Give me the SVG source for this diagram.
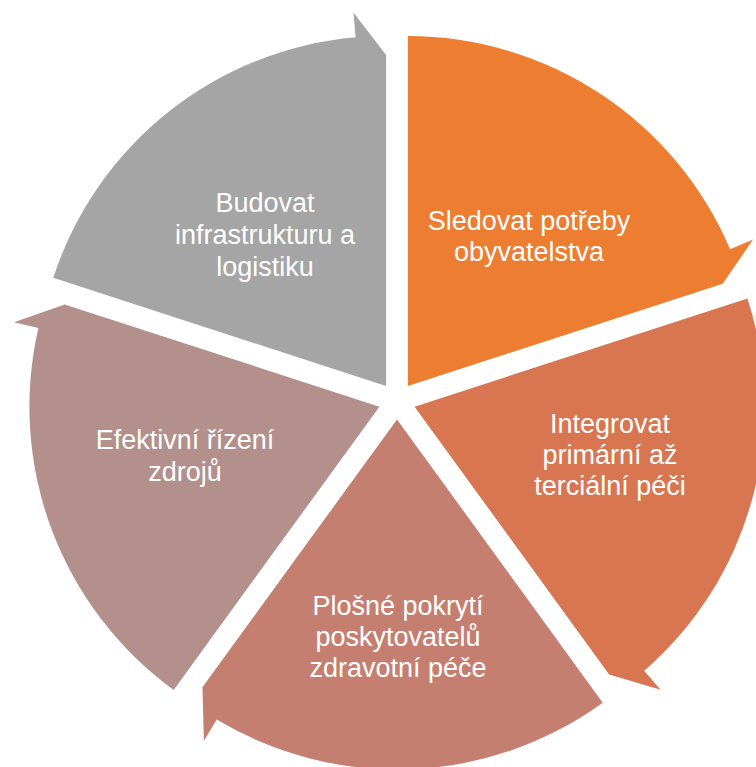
<svg xmlns="http://www.w3.org/2000/svg" width="756" height="767" viewBox="0 0 756 767">
  <style>
    .lbl { font-family: "Liberation Sans", Arial, sans-serif; font-size: 27px; fill: #FFFFFF; text-anchor: middle; }
  </style>
  <rect x="0" y="0" width="756" height="767" fill="#FFFFFF"/>
  <g id="node-sledovat">
    <path d="M407.87,386.03 L407.87,36.03 A350,350 0 0 1 730.05,249.27 L753.06,239.51 L722.67,283.75 Z" fill="#ED7D31"/>
    <text class="lbl"><tspan x="529" y="230">Sledovat potřeby</tspan><tspan x="529" y="261">obyvatelstva</tspan></text>
  </g>
  <g id="node-integrovat">
    <path d="M414.59,406.72 L747.46,298.56 A350,350 0 0 1 644.21,670.87 L660.61,689.74 L609.15,674.51 Z" fill="#D87651"/>
    <text class="lbl"><tspan x="610" y="433">Integrovat</tspan><tspan x="610" y="464">primární až</tspan><tspan x="610" y="495">terciální péči</tspan></text>
  </g>
  <g id="node-plosne">
    <path d="M397,419.5 L602.73,702.66 A350,350 0 0 1 216.74,719.51 L203.86,740.94 L202.44,687.29 Z" fill="#C57F70"/>
    <text class="lbl"><tspan x="398" y="615">Plošné pokrytí</tspan><tspan x="398" y="646">poskytovatelů</tspan><tspan x="398" y="677">zdravotní péče</tspan></text>
  </g>
  <g id="node-efektivni">
    <path d="M379.41,406.72 L173.68,689.88 A350,350 0 0 1 38.38,327.99 L14.02,322.36 L64.61,304.44 Z" fill="#B4908C"/>
    <text class="lbl"><tspan x="185" y="449">Efektivní řízení</tspan><tspan x="185" y="481">zdrojů</tspan></text>
  </g>
  <g id="node-budovat">
    <path d="M386.13,386.03 L53.26,277.87 A350,350 0 0 1 355.62,37.36 L353.44,12.46 L386.13,55.03 Z" fill="#A5A5A5"/>
    <text class="lbl"><tspan x="265" y="212">Budovat</tspan><tspan x="265" y="244">infrastrukturu a</tspan><tspan x="265" y="276">logistiku</tspan></text>
  </g>
  <g id="connectors"/>
</svg>
